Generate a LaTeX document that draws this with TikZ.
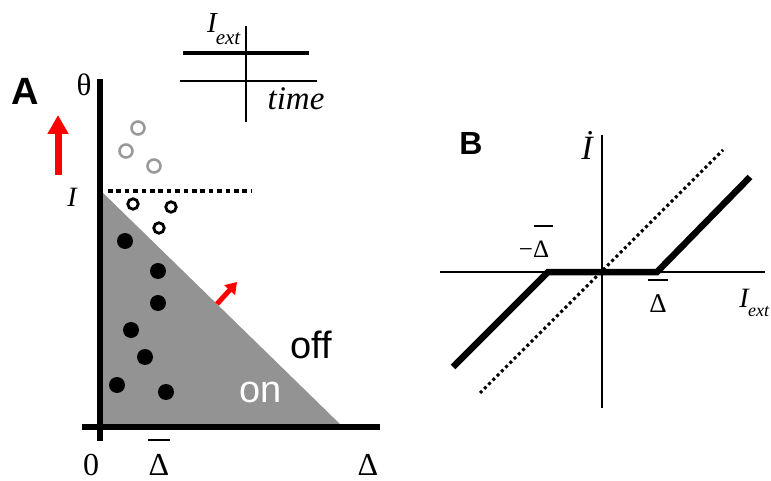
\documentclass[tikz,border=0pt]{standalone}
\usepackage{fontspec}
\setmainfont{Liberation Serif}
\newfontfamily\sansf{Liberation Sans}
\usetikzlibrary{arrows.meta}
\definecolor{trigray}{HTML}{939393}
\definecolor{circgray}{HTML}{9A9A9A}
\newcommand{\fs}[1]{\fontsize{#1}{#1}\selectfont}
\begin{document}
\begin{tikzpicture}[x=1pt,y=-1pt,
  lbl/.style={inner sep=0pt, anchor=base},
  axisA/.style={line width=6pt},
  thinax/.style={line width=1.6pt},
  axisB/.style={line width=2.6pt},
  thickcurve/.style={line width=6.5pt},
  dotcurve/.style={line width=3pt, dash pattern=on 3pt off 3pt},
  redarrow/.style={draw=red, line width=7pt, -{Triangle[width=20pt,length=19pt]}},
  smallred/.style={draw=red, line width=5pt, -{Triangle[width=14pt,length=11pt]}},
  graycirc/.style={circle, draw=circgray, line width=2.6pt, minimum size=13pt, inner sep=0pt},
  opencirc/.style={circle, draw=black, line width=2.8pt, minimum size=10.5pt, inner sep=0pt},
  fulldot/.style={circle, fill=black, minimum size=16pt, inner sep=0pt},
  barline/.style={line width=1.4pt}]
\useasboundingbox (0,0) rectangle (771,481);

% ---------- Panel A ----------
\coordinate (tA) at (100,190);
\coordinate (tB) at (100,427);
\coordinate (tC) at (343,427);
\fill[trigray] (tA) -- (tB) -- (tC) -- cycle;

\coordinate (vtop) at (100,79);
\coordinate (vbot) at (100,441);
\coordinate (hleft) at (82,427);
\coordinate (hright) at (380,427);
\draw[axisA] (vtop) -- (vbot);
\draw[axisA] (hleft) -- (hright);

\coordinate (dotL) at (108,191);
\coordinate (dotR) at (251,191);
\draw[line width=4.5pt, dash pattern=on 4.5pt off 3.9pt] (dotL) -- (dotR);

% circles
\node[graycirc] (g1) at (138,128) {};
\node[graycirc] (g2) at (126,151) {};
\node[graycirc] (g3) at (154,166) {};
\node[opencirc] (o1) at (133,204) {};
\node[opencirc] (o2) at (171,207) {};
\node[opencirc] (o3) at (159,228) {};
\node[fulldot] (d1) at (125,241) {};
\node[fulldot] (d2) at (158,271) {};
\node[fulldot] (d3) at (158,303) {};
\node[fulldot] (d4) at (131,330) {};
\node[fulldot] (d5) at (145,357) {};
\node[fulldot] (d6) at (117,385) {};
\node[fulldot] (d7) at (166,392) {};

% red arrows
\coordinate (ra1) at (58,175);
\coordinate (ra2) at (58,115);
\draw[redarrow] (ra1) -- (ra2);
\coordinate (rb1) at (217,304);
\coordinate (rb2) at (237,282);
\draw[smallred] (rb1) -- (rb2);

% labels A
\node[lbl, font=\sansf\bfseries\fs{38}] (labA) at (25,105) {A};
\node[lbl, font=\fs{31}] (theta) at (84,96) {θ};
\node[lbl, font=\itshape\fs{28}] (labI) at (72,207) {I};
\node[lbl, font=\fs{32}] (zero) at (91,475) {0};
\node[lbl, font=\fs{32}] (dbar) at (159,475) {Δ};
\coordinate (db1) at (148,440);
\coordinate (db2) at (170,440);
\draw[barline] (db1) -- (db2);
\node[lbl, font=\fs{32}] (delta) at (368,475) {Δ};
\node[lbl, font=\sansf\fs{38}] (off) at (311,358) {off};
\node[lbl, font=\sansf\fs{38}, text=white] (on) at (261,402) {on};

% inset
\coordinate (i1) at (183,53);
\coordinate (i2) at (309,53);
\draw[line width=4.5pt] (i1) -- (i2);
\coordinate (i3) at (180,81);
\coordinate (i4) at (317,81);
\draw[thinax] (i3) -- (i4);
\coordinate (i5) at (246,26);
\coordinate (i6) at (246,122);
\draw[thinax] (i5) -- (i6);
\node[lbl, font=\itshape\fs{29}] (iI) at (212,33) {I};
\node[lbl, font=\itshape\fs{21}] (iext) at (228,45) {ext};
\node[lbl, font=\itshape\fs{33}] (time) at (296,110) {time};

% ---------- Panel B ----------
\node[lbl, font=\sansf\bfseries\fs{32}] (labB) at (471,155) {B};
\coordinate (bvt) at (602,135);
\coordinate (bvb) at (602,408);
\coordinate (bhl) at (440,272);
\coordinate (bhr) at (765,272);
\draw[axisB] (bvt) -- (bvb);
\draw[axisB] (bhl) -- (bhr);

\coordinate (dc1) at (480,393);
\coordinate (dc2) at (723,150);
\draw[dotcurve] (dc1) -- (dc2);

\coordinate (c1) at (453,367);
\coordinate (c2) at (548,272);
\coordinate (c3) at (657,272);
\coordinate (c4) at (750,177);
\draw[thickcurve] (c1) -- (c2) -- (c3) -- (c4);

\node[lbl, font=\itshape\fs{34}] (Idot) at (587,160) {İ};
\node[lbl, font=\fs{25}] (mdel) at (534,258) {−Δ};
\coordinate (mb1) at (534,226);
\coordinate (mb2) at (553,226);
\draw[barline] (mb1) -- (mb2);
\node[lbl, font=\fs{27}] (pdel) at (658,312) {Δ};
\coordinate (pb1) at (648,280);
\coordinate (pb2) at (668,280);
\draw[barline] (pb1) -- (pb2);
\node[lbl, font=\itshape\fs{28}] (bI) at (744,307) {I};
\node[lbl, font=\itshape\fs{18}, anchor=base west] (bext) at (748,316) {ext};
\end{tikzpicture}
\end{document}
